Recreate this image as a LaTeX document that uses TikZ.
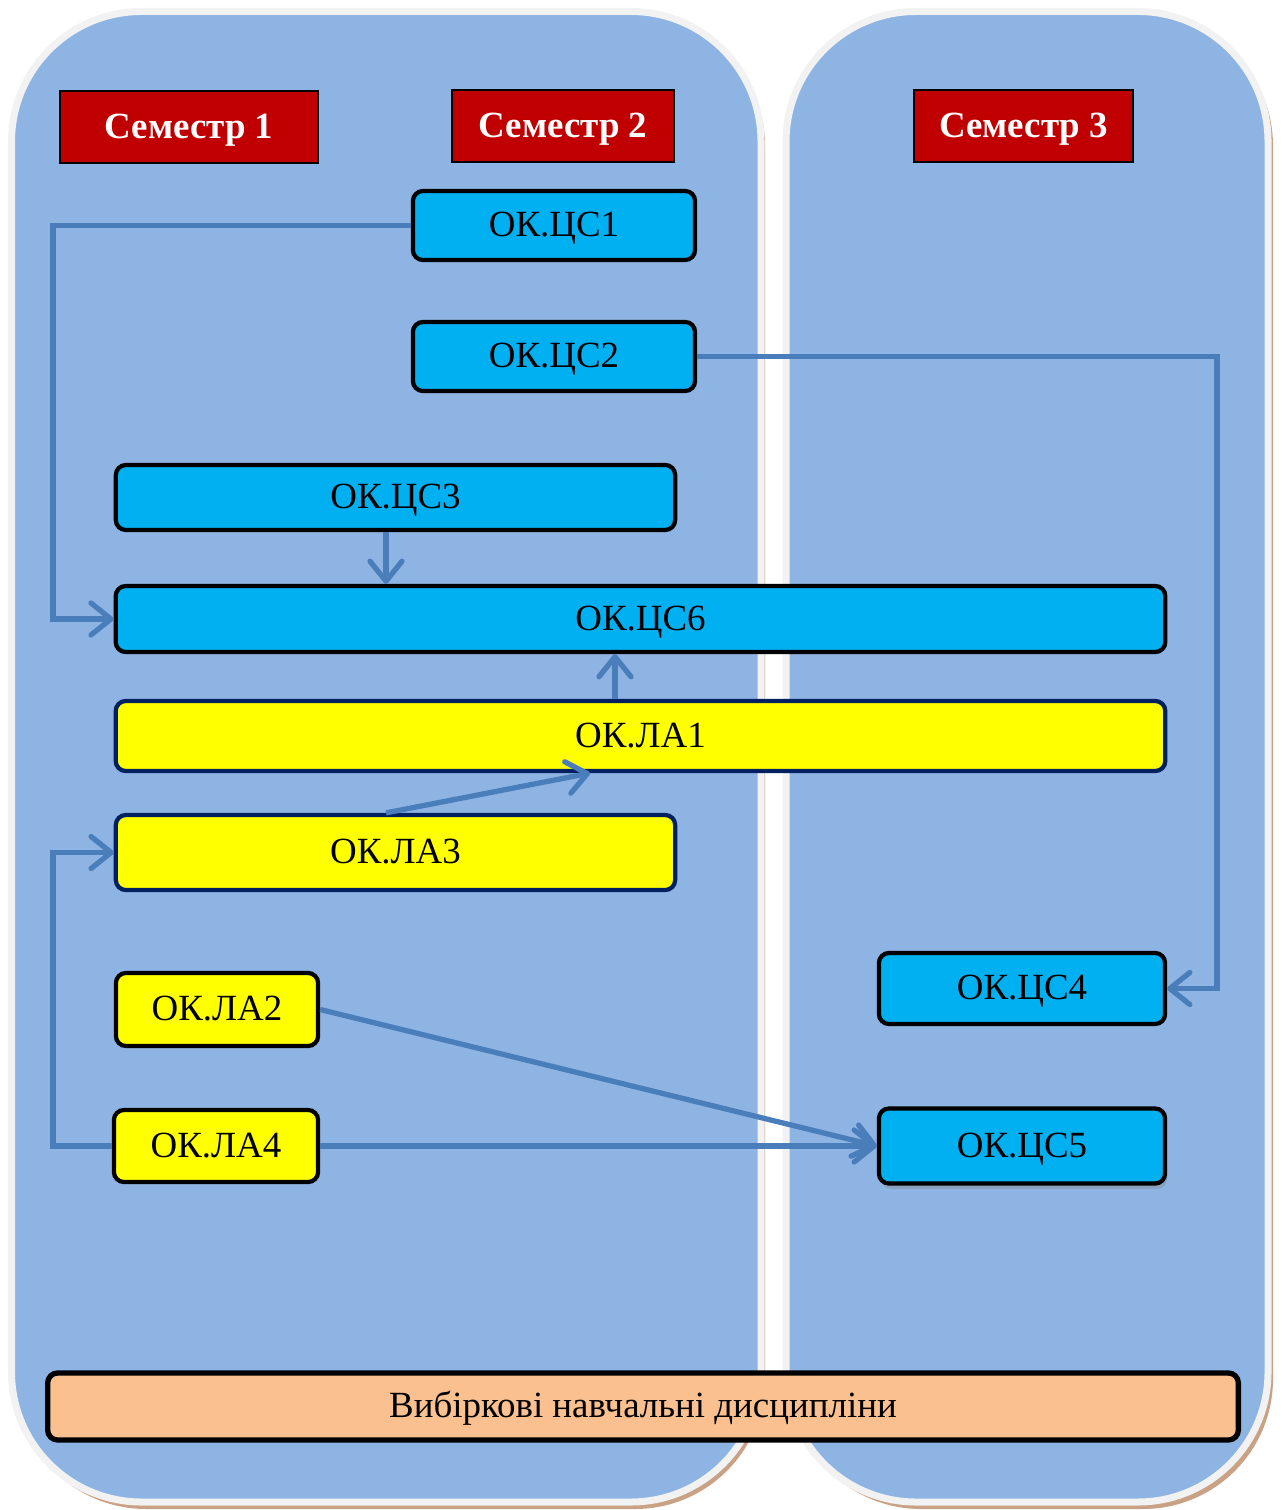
\documentclass[tikz,border=0pt]{standalone}
\usepackage{fontspec}
\setmainfont{Liberation Serif}
\definecolor{PanelBlue}{HTML}{8EB4E3}
\definecolor{PanelEdge}{HTML}{F2F2F2}
\definecolor{PanelShade}{HTML}{C9A285}
\definecolor{SemRed}{HTML}{C00000}
\definecolor{CsCyan}{HTML}{00B0F0}
\definecolor{LaYellow}{HTML}{FFFF00}
\definecolor{LaNavy}{HTML}{002060}
\definecolor{OptPeach}{HTML}{FAC090}
\definecolor{LinkBlue}{HTML}{4A7EBB}
\usetikzlibrary{arrows.meta,shadows}

\begin{document}
\begin{tikzpicture}[x=0.01cm, y=-0.01cm]
				\tikzstyle{every node}=[rectangle, font=\fontsize{10.5}{12}\selectfont, inner sep=0pt, text height=6.3pt, text depth=0pt];
				\tikzstyle{sem}=[draw=black, line width=0.8pt, fill=SemRed, text=white, font=\fontsize{10.5}{12}\selectfont\bfseries];
				\tikzstyle{cs}=[draw=black, line width=1.2pt, fill=CsCyan, rounded corners=0.1cm];
				\tikzstyle{la}=[draw=LaNavy, line width=1.2pt, fill=LaYellow, rounded corners=0.1cm];
				\tikzstyle{link}=[draw=LinkBlue, line width=1.5pt, -{Straight Barb[length=2mm, width=3.2mm, round]}];
				\useasboundingbox (0,0) rectangle (1281,1510);
				% semester panels
				\fill [PanelShade, rounded corners=1.3cm] (16,16) rectangle (765,1509);
				\fill [PanelShade, rounded corners=1.3cm] (791,16) rectangle (1273,1509);
				\draw [PanelEdge, fill=PanelBlue, line width=0.07cm, rounded corners=1.3cm] (11.5,11.5) rectangle (761,1502);
				\draw [PanelEdge, fill=PanelBlue, line width=0.07cm, rounded corners=1.3cm] (786,11.5) rectangle (1268,1502);
				\node [sem, minimum width=2.58cm, minimum height=0.72cm] (sem1) at (189,127) {Семестр 1};
				\node [sem, minimum width=2.22cm, minimum height=0.72cm] (sem2) at (563,126) {Семестр 2};
				\node [sem, minimum width=2.19cm, minimum height=0.72cm] (sem3) at (1023.5,126) {Семестр 3};
				\node [cs, minimum width=2.82cm, minimum height=0.69cm] (cs1) at (554,225.5) {ОК.ЦС1};
				\node [cs, minimum width=2.82cm, minimum height=0.69cm] (cs2) at (554,356.5) {ОК.ЦС2};
				\node [cs, minimum width=5.59cm, minimum height=0.65cm] (cs3) at (395.5,497.5) {ОК.ЦС3};
				\node [cs, minimum width=10.49cm, minimum height=0.66cm] (cs6) at (640.5,619) {ОК.ЦС6};
				\node [la, minimum width=10.49cm, minimum height=0.70cm] (la1) at (640.5,736) {ОК.ЛА1};
				\node [la, minimum width=5.59cm, minimum height=0.75cm] (la3) at (395.5,852.5) {ОК.ЛА3};
				\node [la, draw=black, minimum width=2.02cm, minimum height=0.73cm] (la2) at (217,1009.5) {ОК.ЛА2};
				\node [la, draw=black, minimum width=2.04cm, minimum height=0.72cm] (la4) at (216,1146) {ОК.ЛА4};
				\node [cs, minimum width=2.86cm, minimum height=0.71cm] (cs4) at (1022,988.5) {ОК.ЦС4};
				\node [cs, minimum width=2.86cm, minimum height=0.75cm, drop shadow={opacity=0.35, shadow xshift=0.6pt, shadow yshift=-1.5pt}] (cs5) at (1022,1146) {ОК.ЦС5};
				\node [draw=black, line width=1.5pt, fill=OptPeach, rounded corners=0.1cm, minimum width=11.9cm, minimum height=0.67cm, text depth=-3.5pt] (opt) at (643,1406.5) {Вибіркові навчальні дисципліни};
				% bends of the links
				\coordinate (k1) at (53,0);
				\coordinate (k2) at (1217,0);
				\coordinate (k3) at (615,0);
				\coordinate (k4) at (590,0);
				\coordinate (k5) at (386,0);
				\draw [link] (cs1.west) -| (k1 |- cs6.west) -- (cs6.west);
				\draw [link] (cs2.east) -| (k2 |- cs4.east) -- (cs4.east);
				\draw [link] (k5 |- cs3.south) -- (k5 |- cs6.north);
				\draw [link] (k3 |- la1.north) -- (k3 |- cs6.south);
				\draw [link] (k5 |- la3.north) -- (k4 |- la1.south);
				\draw [link] (la4.west) -| (k1 |- la3.west) -- (la3.west);
				\draw [link] (la2.east) -- (cs5.west);
				\draw [link] (la4.east) -- (cs5.west);
			\end{tikzpicture}
\end{document}
